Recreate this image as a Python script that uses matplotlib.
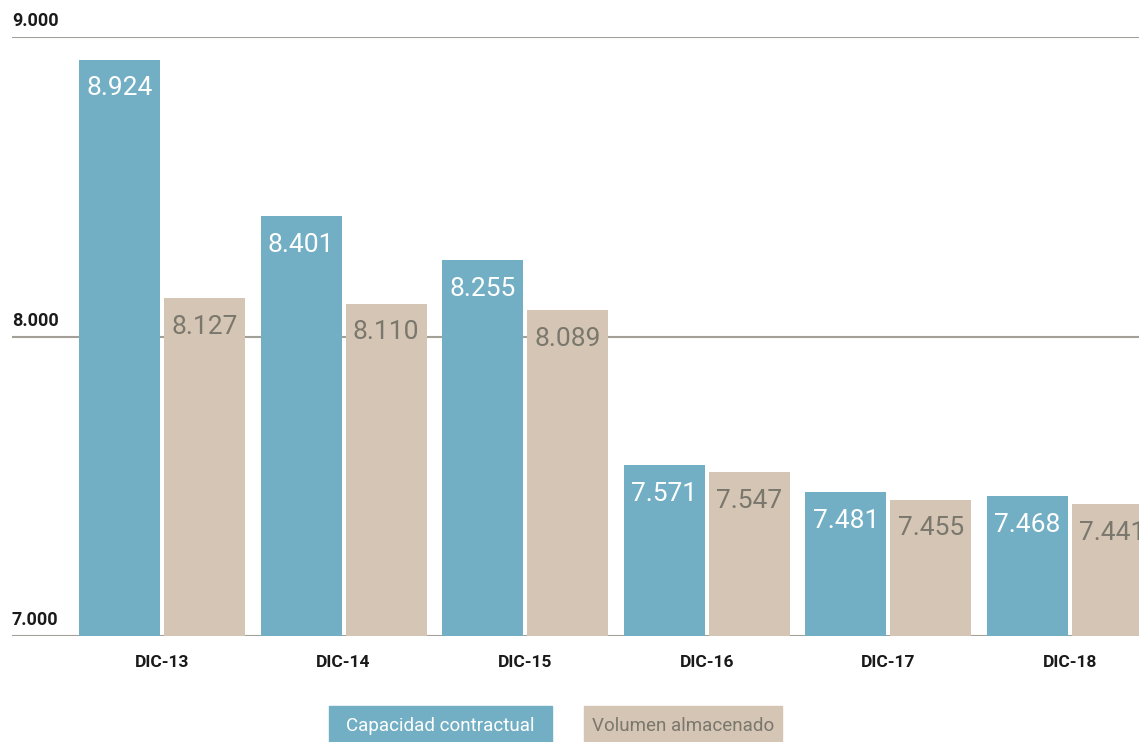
"""
Capacidad contractual vs volumen almacenado, DIC-13 .. DIC-18
"""

import matplotlib.pyplot as plt
import matplotlib.transforms as mtransforms
from matplotlib.patches import Rectangle
import numpy as np

# ========== Data ==========
categories = ['DIC-13', 'DIC-14', 'DIC-15', 'DIC-16', 'DIC-17', 'DIC-18']
capacidad = [8924, 8401, 8255, 7571, 7481, 7468]
volumen = [8127, 8110, 8089, 7547, 7455, 7441]
series_names = ['Capacidad contractual', 'Volumen almacenado']
y_ticks = [7000, 8000, 9000]

# ========== Style ==========
BLUE = '#73afc4'
BEIGE = '#d5c5b4'
BEIGE_TXT = '#7a776d'
GRID = '#a3a197'
TXT = '#1a1a1a'

plt.rcParams['font.family'] = ['Roboto', 'DejaVu Sans']

W, H = 1139, 742
fig = plt.figure(figsize=(W / 100, H / 100), dpi=100)
ax = fig.add_axes([12 / W, 1 - 636 / H, 1127 / W, 599 / H])

x = np.arange(len(categories))
width = 0.446
off = 0.234

bars1 = ax.bar(x - off, capacidad, width, color=BLUE, zorder=3)
bars2 = ax.bar(x + off, volumen, width, color=BEIGE, zorder=3)

ax.set_ylim(7000, 9000)
ax.set_xlim(-0.826, 5.38)

for s in ax.spines.values():
    s.set_visible(False)
ax.set_yticks(y_ticks)
ax.set_yticklabels([])
ax.tick_params(axis='both', length=0)
ax.grid(axis='y', color=GRID, linewidth=1.5, zorder=0)
ax.set_axisbelow(True)

ax.set_xticks(x)
ax.set_xticklabels(categories, fontsize=12.5, fontweight='bold', color=TXT)
ax.tick_params(axis='x', pad=14)

fmt = lambda v: f"{v:,}".replace(',', '.')

# y labels sit above their gridline, at the left
trans = mtransforms.blended_transform_factory(ax.transAxes, ax.transData)
for t in y_ticks:
    ax.annotate(fmt(t), (0, t), xycoords=trans, xytext=(0, 5),
                textcoords='offset points', ha='left', va='bottom',
                fontsize=13, fontweight='bold', color=TXT)

# value labels inside bars
for bars, vals, col in ((bars1, capacidad, 'white'), (bars2, volumen, BEIGE_TXT)):
    for b, v in zip(bars, vals):
        ax.annotate(fmt(v), (b.get_x() + b.get_width() / 2, v),
                    xytext=(0, -12), textcoords='offset points',
                    ha='center', va='top', fontsize=19, color=col, zorder=4)

# legend: coloured boxes with text inside
for (x0, x1), col, tcol, name in (((329, 552), BLUE, 'white', series_names[0]),
                                   ((584, 782), BEIGE, BEIGE_TXT, series_names[1])):
    fig.patches.append(Rectangle((x0 / W, 0), (x1 - x0) / W, 36 / H,
                                 transform=fig.transFigure, color=col))
    fig.text((x0 + x1) / 2 / W, 16 / H, name, ha='center', va='center',
             fontsize=13.5, color=tcol)

plt.savefig('out.png', dpi=100)
